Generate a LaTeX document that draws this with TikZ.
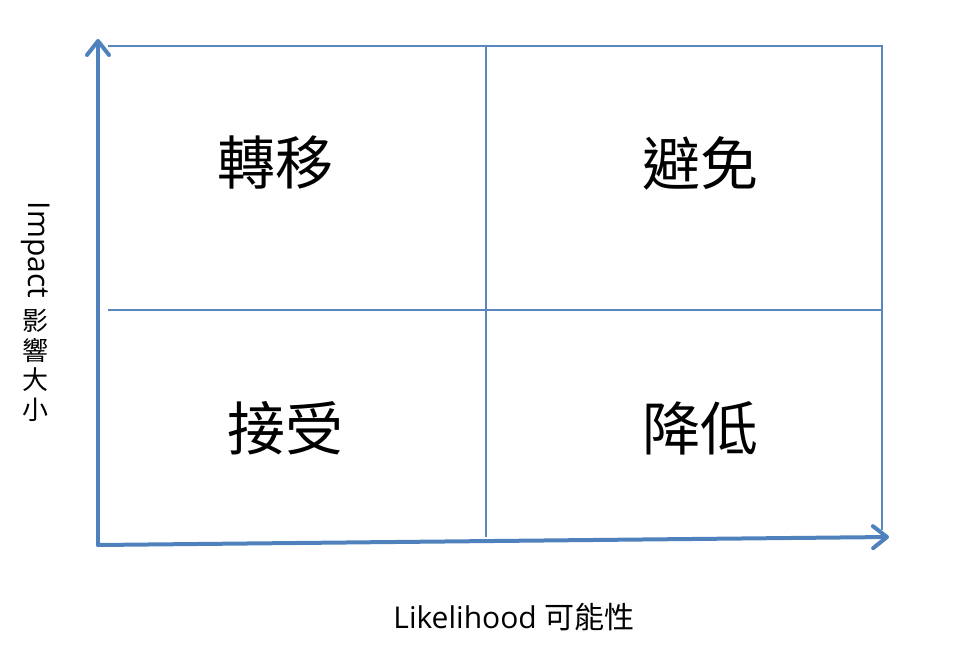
\documentclass[tikz,border=0pt]{standalone}
\usepackage{fontspec}
\setmainfont{Open Sans}
\newfontfamily\cjk{Noto Sans CJK TC}
\usetikzlibrary{arrows.meta}
\definecolor{axisblue}{HTML}{4F81BD}
\definecolor{gridblue}{HTML}{5B87BF}
\tikzset{
  axisline/.style={draw=axisblue, line width=4pt, line cap=round,
    -{Straight Barb[length=14pt,width=22pt,line width=4pt,round]}},
  gridline/.style={draw=gridblue, line width=1.4pt},
  quad/.style={font=\cjk\fontsize{58}{62}\selectfont, inner sep=0pt},
  axlabel/.style={font=\fontsize{30}{34}\selectfont, inner sep=0pt},
}
\begin{document}
\begin{tikzpicture}[x=1pt,y=-1pt]
\useasboundingbox (0,0) rectangle (959,662);
% grid
\coordinate (tl) at (108,46);
\coordinate (tm) at (486,46);
\coordinate (tr) at (882,46);
\coordinate (ml) at (108,310);
\coordinate (mr) at (882,310);
\coordinate (bm) at (486,537);
\coordinate (br) at (882,530);
\draw[gridline] (tl) -- (tr) -- (br);
\draw[gridline] (tm) -- (bm);
\draw[gridline] (ml) -- (mr);
% axes
\coordinate (o) at (98,545);
\coordinate (ytip) at (98,39);
\coordinate (xtip) at (889,537);
\draw[axisline] (o) -- (ytip);
\draw[axisline] (o) -- (xtip);
% quadrant labels
\node[quad] (q1) at (275,163) {轉移};
\node[quad] (q2) at (700,163) {避免};
\node[quad] (q3) at (285,428) {接受};
\node[quad] (q4) at (700,428) {降低};
% axis labels
\node[axlabel, anchor=center] (xl) at (514,617) {Likelihood {\cjk 可能性}};
\node[axlabel, rotate=-90, anchor=center] (yl1) at (36,250) {Impact};
\node[font=\cjk\fontsize{26}{29.5}\selectfont, align=center, inner sep=0pt, anchor=north] (yl2) at (36,309) {影\\響\\大\\小};
\end{tikzpicture}
\end{document}
